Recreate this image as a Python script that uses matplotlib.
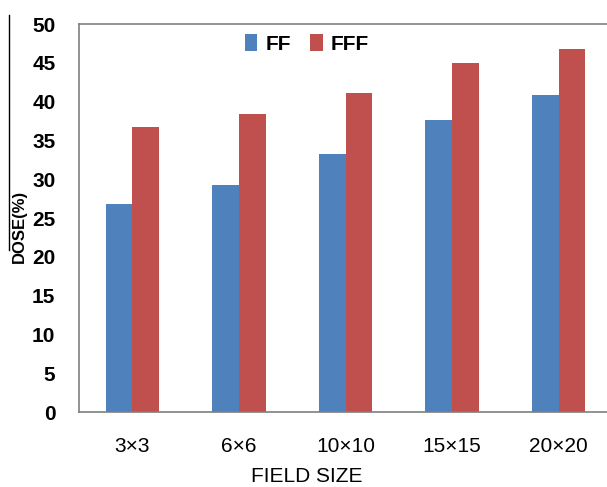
import matplotlib
matplotlib.use("Agg")
import matplotlib.pyplot as plt
from matplotlib.lines import Line2D
import numpy as np

categories = ["3×3", "6×6", "10×10", "15×15", "20×20"]
ff_values = [26.8, 29.3, 33.3, 37.6, 40.9]
fff_values = [36.7, 38.4, 41.1, 45.0, 46.8]
series_names = ["FF", "FFF"]
y_ticks = [0, 5, 10, 15, 20, 25, 30, 35, 40, 45, 50]

FONT = ["Liberation Sans Narrow", "Liberation Sans", "DejaVu Sans"]
plt.rcParams["font.family"] = FONT

W, H = 607, 487
fig = plt.figure(figsize=(W / 100, H / 100), dpi=100)
left, right, top, bottom = 79, 612, 24, 412
ax = fig.add_axes([left / W, 1 - bottom / H, (right - left) / W, (bottom - top) / H])

x = np.arange(len(categories))
bw = 0.25
ax.bar(x - bw / 2, ff_values, bw, color="#4F81BD", label=series_names[0])
ax.bar(x + bw / 2, fff_values, bw, color="#C0504D", label=series_names[1])

ax.set_xlim(-0.5, len(categories) - 0.5)
ax.set_ylim(0, 50)
ax.set_yticks(y_ticks)
ax.set_yticklabels([str(t) for t in y_ticks], fontsize=15, fontweight="bold")
ax.set_xticks(x)
ax.set_xticklabels(categories, fontsize=15)
ax.tick_params(axis="y", length=0, pad=17)
ax.tick_params(axis="x", length=0, pad=18)
for s in ax.spines.values():
    s.set_color("#7f7f7f")
    s.set_linewidth(1.2)

fig.text(307 / W, 1 - 477 / H, "FIELD SIZE", ha="center", va="center", fontsize=15)
fig.text(19 / W, 1 - 226 / H, "DOSE(%)", ha="center", va="center", rotation=90,
         fontsize=12, fontweight="bold")

leg = ax.legend(loc="center", bbox_to_anchor=(307 / W, 1 - 44 / H),
                bbox_transform=fig.transFigure, ncol=2, frameon=False,
                handlelength=0.6, handleheight=0.9, handletextpad=0.4,
                columnspacing=0.9, prop={"size": 15, "weight": "bold"})

fig.add_artist(Line2D([9 / W, 9 / W], [1 - 15 / H, 1 - 250 / H],
                      transform=fig.transFigure, color="black", linewidth=1.0))

fig.savefig("out.png", dpi=100)
